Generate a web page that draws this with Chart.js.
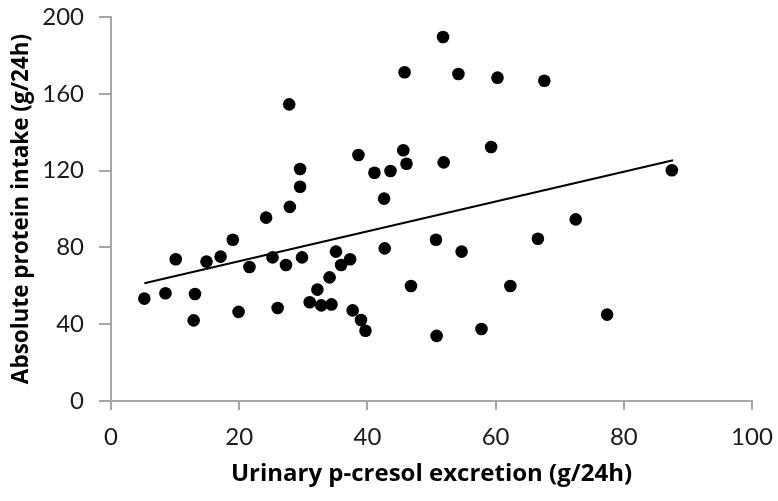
<!DOCTYPE html>
<html>
<head>
<meta charset="utf-8">
<script src="https://cdn.jsdelivr.net/npm/chart.js@4"></script>
<style>
  html, body { margin: 0; padding: 0; background: #fff; }
  #wrap { width: 778px; height: 501px; }
</style>
</head>
<body>
<div id="wrap"><canvas id="chart"></canvas></div>
<script>
// Urinary p-cresol excretion (x) vs absolute protein intake (y)
const cresol = [5.2, 8.5, 10.1, 12.9, 13.1, 14.9, 17.1, 19.0, 19.9, 21.6,
    24.2, 25.2, 26.0, 27.3, 27.8, 27.9, 29.5, 29.5, 29.8, 31.0,
    32.2, 32.8, 34.1, 34.4, 35.1, 35.9, 37.3, 37.7, 38.6, 39.0,
    39.7, 41.1, 42.6, 42.7, 43.6, 45.6, 45.8, 46.1, 46.8, 50.7,
    50.8, 51.8, 51.9, 54.2, 54.7, 57.8, 59.3, 60.3, 62.3, 66.6,
    67.6, 72.5, 77.4, 87.5];
const protein = [53.3, 56.1, 73.8, 42.0, 55.7, 72.6, 75.2, 84.0, 46.4, 69.8,
    95.5, 74.8, 48.4, 70.8, 154.5, 101.1, 120.8, 111.6, 74.8, 51.4,
    58.0, 49.8, 64.4, 50.3, 77.8, 70.8, 73.8, 47.2, 128.1, 42.2,
    36.6, 118.9, 105.4, 79.5, 119.8, 130.6, 171.2, 123.6, 59.9, 84.0,
    33.9, 189.6, 124.3, 170.3, 77.8, 37.5, 132.3, 168.4, 59.9, 84.5,
    166.8, 94.6, 45.0, 120.2];

// linear trendline end points
const trendX = [5.2, 87.7];
const trendY = [61.3, 125.4];

const xTicks = [0, 20, 40, 60, 80, 100];
const yTicks = [0, 40, 80, 120, 160, 200];

const points = cresol.map((x, i) => ({ x: x, y: protein[i] }));
const trend = trendX.map((x, i) => ({ x: x, y: trendY[i] }));

const axisGray = '#a6a6a6';
const tickFont = 'Lato, "Open Sans", sans-serif';
const titleFont = '"Open Sans", Lato, sans-serif';

new Chart(document.getElementById('chart'), {
    type: 'scatter',
    data: {
        datasets: [
            {
                label: 'Data',
                data: points,
                backgroundColor: '#000',
                borderColor: '#000',
                pointRadius: 6.3,
                pointBorderWidth: 0,
                pointHoverRadius: 6.3
            },
            {
                label: 'Trend',
                type: 'line',
                data: trend,
                borderColor: '#000',
                borderWidth: 2,
                pointRadius: 0,
                fill: false
            }
        ]
    },
    options: {
        responsive: true,
        maintainAspectRatio: false,
        animation: false,
        layout: { padding: { top: 17, right: 26, left: 0, bottom: 0 } },
        plugins: {
            legend: { display: false },
            tooltip: { enabled: false }
        },
        scales: {
            x: {
                type: 'linear',
                min: 0,
                max: 100,
                afterBuildTicks: s => { s.ticks = xTicks.map(v => ({ value: v })); },
                afterFit: s => { s.height = 100; s.paddingLeft = 0; s.paddingRight = 0; },
                grid: { drawOnChartArea: false, drawTicks: true, tickLength: 9, color: axisGray, lineWidth: 2 },
                border: { color: axisGray, width: 2 },
                ticks: { color: '#1a1a1a', padding: 13, font: { family: tickFont, size: 24 } },
                title: {
                    display: true,
                    text: 'Urinary p-cresol excretion (g/24h)',
                    color: '#000',
                    padding: { top: 0, bottom: 12 },
                    font: { family: titleFont, size: 24, weight: 'bold' }
                }
            },
            y: {
                type: 'linear',
                min: 0,
                max: 200,
                afterBuildTicks: s => { s.ticks = yTicks.map(v => ({ value: v })); },
                afterFit: s => { s.width = 111; s.paddingTop = 0; s.paddingBottom = 0; },
                grid: { drawOnChartArea: false, drawTicks: true, tickLength: 12, color: axisGray, lineWidth: 2 },
                border: { color: axisGray, width: 2 },
                ticks: { color: '#1a1a1a', padding: 15, font: { family: tickFont, size: 24 } },
                title: {
                    display: true,
                    text: 'Absolute protein intake (g/24h)',
                    color: '#000',
                    padding: { bottom: 0, top: 8 },
                    font: { family: titleFont, size: 22.5, weight: 'bold' }
                }
            }
        }
    }
});
</script>
</body>
</html>
